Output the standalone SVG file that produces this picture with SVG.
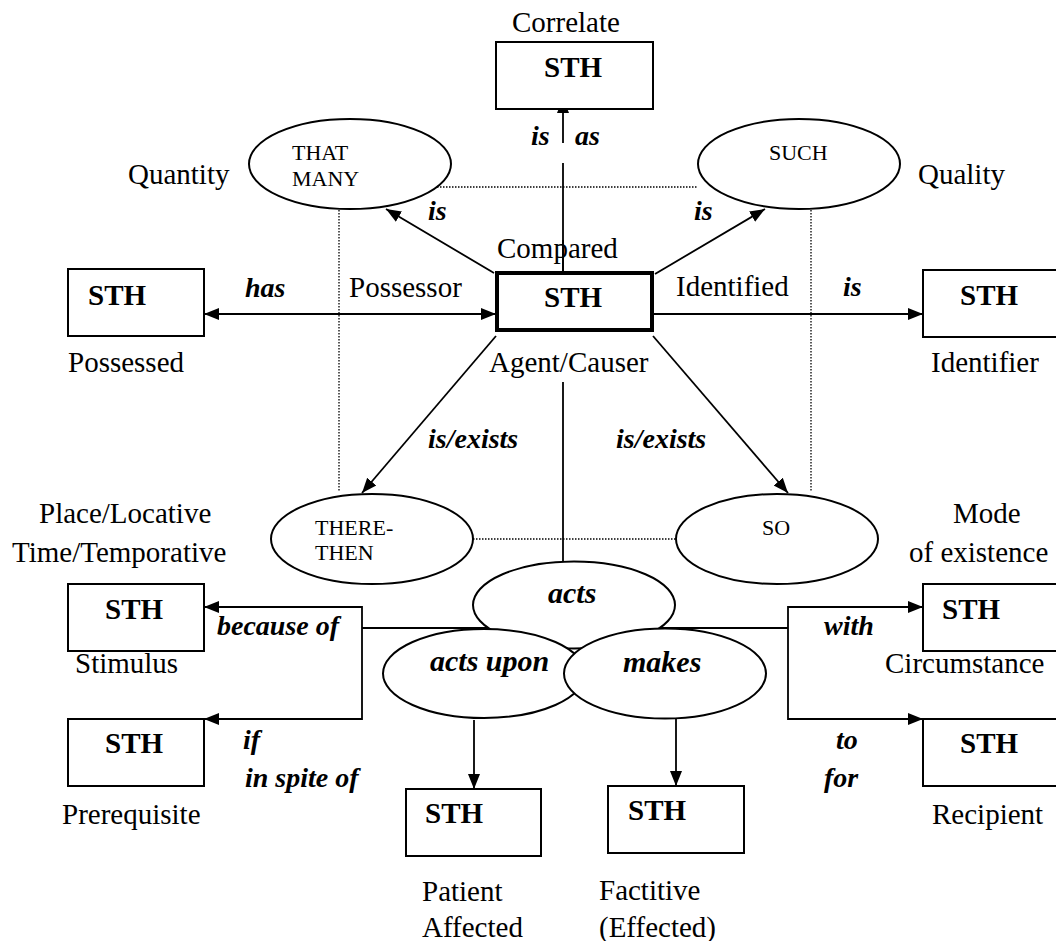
<svg xmlns="http://www.w3.org/2000/svg" width="1056" height="941" viewBox="0 0 1056 941" font-family="'Liberation Serif', 'Times New Roman', Times, 'DejaVu Serif', serif">
  <style>
    text { font-family: "Liberation Serif", "Times New Roman", Times, "DejaVu Serif", serif; fill: #000; }
    .lbl { font-size: 29px; }
    .sth { font-size: 29px; font-weight: bold; }
    .rel { font-size: 28px; font-weight: bold; font-style: italic; }
    .verb { font-size: 30px; font-weight: bold; font-style: italic; }
    .cap { font-size: 22px; }
    .box { fill: #fff; stroke: #000; stroke-width: 2; }
    .ell { fill: #fff; stroke: #000; stroke-width: 2; }
    .ln { fill: none; stroke: #000; stroke-width: 1.8; }
    .dot { fill: none; stroke: #000; stroke-width: 1.3; stroke-dasharray: 1.5 1.5; }
  </style>
  <defs>
    <marker id="arr" markerUnits="userSpaceOnUse" markerWidth="16" markerHeight="14" refX="15" refY="7" orient="auto-start-reverse">
      <path d="M0,1 L15,7 L0,13 Z" fill="#000"/>
    </marker>
  </defs>
  <rect width="1056" height="941" fill="#fff"/>

  <!-- dotted guide frame -->
  <g id="guides">
    <line class="dot" x1="428" y1="187" x2="697" y2="187"/>
    <line class="dot" x1="339" y1="201" x2="339" y2="492"/>
    <line class="dot" x1="811" y1="201" x2="811" y2="492"/>
    <line class="dot" x1="473" y1="539" x2="676" y2="539"/>
  </g>

  <g id="connectors">
    <!-- Compared -> Correlate -->
    <line class="ln" x1="563" y1="143" x2="563" y2="98" marker-end="url(#arr)"/>
    <line class="ln" x1="563" y1="163" x2="563" y2="273"/>
    <!-- to THAT MANY / SUCH -->
    <line class="ln" x1="494" y1="273" x2="386" y2="209" marker-end="url(#arr)"/>
    <line class="ln" x1="655" y1="274" x2="765" y2="209" marker-end="url(#arr)"/>
    <!-- has (both ways) -->
    <line class="ln" x1="204" y1="314" x2="496" y2="314" marker-start="url(#arr)" marker-end="url(#arr)"/>
    <!-- is identifier -->
    <line class="ln" x1="654" y1="314" x2="923" y2="314" marker-end="url(#arr)"/>
    <!-- is/exists -->
    <line class="ln" x1="496" y1="336" x2="362" y2="493" marker-end="url(#arr)"/>
    <line class="ln" x1="653" y1="336" x2="788" y2="493" marker-end="url(#arr)"/>
    <!-- agent to acts -->
    <line class="ln" x1="563" y1="382" x2="563" y2="562"/>
    <!-- circumstance bar -->
    <line class="ln" x1="362" y1="628" x2="788" y2="628"/>
    <polyline class="ln" points="204,607 362,607 362,719 204,719" marker-start="url(#arr)" marker-end="url(#arr)"/>
    <polyline class="ln" points="923,607 788,607 788,719 923,719" marker-start="url(#arr)" marker-end="url(#arr)"/>
    <!-- acts upon / makes down -->
    <line class="ln" x1="474" y1="720" x2="474" y2="789" marker-end="url(#arr)"/>
    <line class="ln" x1="676" y1="719" x2="676" y2="786" marker-end="url(#arr)"/>
  </g>

  <g id="correlate">
    <text class="lbl" x="512" y="32">Correlate</text>
    <rect class="box" x="496" y="42" width="157" height="67"/>
    <text class="sth" x="544" y="77">STH</text>
  </g>
  <g id="rel-labels">
    <text class="rel" x="531" y="145">is</text>
    <text class="rel" x="575" y="145">as</text>
    <text class="rel" x="428" y="220">is</text>
    <text class="rel" x="694" y="220">is</text>
    <text class="rel" x="245" y="297">has</text>
    <text class="rel" x="843" y="296">is</text>
    <text class="rel" x="428" y="448">is/exists</text>
    <text class="rel" x="616" y="448">is/exists</text>
  </g>

  <g id="that-many">
    <ellipse class="ell" cx="350" cy="164" rx="101" ry="45"/>
    <text class="cap" x="292" y="160">THAT</text>
    <text class="cap" x="292" y="186">MANY</text>
    <text class="lbl" x="128" y="184">Quantity</text>
  </g>
  <g id="such">
    <ellipse class="ell" cx="799" cy="164" rx="101" ry="45"/>
    <text class="cap" x="769" y="160">SUCH</text>
    <text class="lbl" x="918" y="184">Quality</text>
  </g>

  <g id="compared">
    <text class="lbl" x="497" y="258">Compared</text>
    <line class="ln" x1="563" y1="240" x2="563" y2="273"/>
    <rect x="497" y="273" width="155" height="57" fill="#fff" stroke="#000" stroke-width="4"/>
    <text class="sth" x="544" y="307">STH</text>
    <text class="lbl" x="349" y="297">Possessor</text>
    <text class="lbl" x="676" y="296">Identified</text>
    <text class="lbl" x="489" y="372">Agent/Causer</text>
  </g>

  <g id="possessed">
    <rect class="box" x="68" y="269" width="136" height="67"/>
    <text class="sth" x="88" y="305">STH</text>
    <text class="lbl" x="68" y="372">Possessed</text>
  </g>
  <g id="identifier">
    <rect class="box" x="923" y="270" width="160" height="67"/>
    <text class="sth" x="960" y="305">STH</text>
    <text class="lbl" x="931" y="372">Identifier</text>
  </g>

  <g id="there-then">
    <ellipse class="ell" cx="372" cy="539" rx="101" ry="45"/>
    <text class="cap" x="315" y="535">THERE-</text>
    <text class="cap" x="315" y="560">THEN</text>
    <text class="lbl" x="39" y="523">Place/Locative</text>
    <text class="lbl" x="12" y="562">Time/Temporative</text>
  </g>
  <g id="so">
    <ellipse class="ell" cx="777" cy="539" rx="101" ry="45"/>
    <text class="cap" x="762" y="535">SO</text>
    <text class="lbl" x="953" y="523">Mode</text>
    <text class="lbl" x="909" y="562">of existence</text>
  </g>

  <g id="acts">
    <ellipse class="ell" cx="574" cy="605" rx="101" ry="43.5"/>
    <text class="verb" x="548" y="603">acts</text>
  </g>
  <g id="acts-upon">
    <ellipse class="ell" cx="484" cy="673.5" rx="101" ry="44.5"/>
    <text class="verb" x="430" y="671">acts upon</text>
  </g>
  <g id="makes">
    <ellipse class="ell" cx="665" cy="673.5" rx="101" ry="45"/>
    <text class="verb" x="623" y="672">makes</text>
  </g>

  <g id="stimulus">
    <rect class="box" x="68" y="584" width="136" height="67"/>
    <text class="sth" x="105" y="619">STH</text>
    <text class="lbl" x="75" y="673">Stimulus</text>
    <text class="rel" x="217" y="635">because of</text>
  </g>
  <g id="prerequisite">
    <rect class="box" x="68" y="719" width="136" height="67"/>
    <text class="sth" x="105" y="753">STH</text>
    <text class="lbl" x="62" y="824">Prerequisite</text>
    <text class="rel" x="243" y="749">if</text>
    <text class="rel" x="245" y="787">in spite of</text>
  </g>
  <g id="patient">
    <rect class="box" x="406" y="789" width="135" height="67"/>
    <text class="sth" x="425" y="823">STH</text>
    <text class="lbl" x="422" y="901">Patient</text>
    <text class="lbl" x="422" y="937">Affected</text>
  </g>
  <g id="factitive">
    <rect class="box" x="608" y="786" width="136" height="67"/>
    <text class="sth" x="628" y="820">STH</text>
    <text class="lbl" x="599" y="900">Factitive</text>
    <text class="lbl" x="599" y="937">(Effected)</text>
  </g>
  <g id="circumstance">
    <rect class="box" x="923" y="584" width="160" height="67"/>
    <text class="sth" x="942" y="619">STH</text>
    <text class="lbl" x="885" y="673">Circumstance</text>
    <text class="rel" x="824" y="635">with</text>
  </g>
  <g id="recipient">
    <rect class="box" x="923" y="719" width="160" height="67"/>
    <text class="sth" x="960" y="753">STH</text>
    <text class="lbl" x="932" y="824">Recipient</text>
    <text class="rel" x="836" y="749">to</text>
    <text class="rel" x="824" y="787">for</text>
  </g>
</svg>
